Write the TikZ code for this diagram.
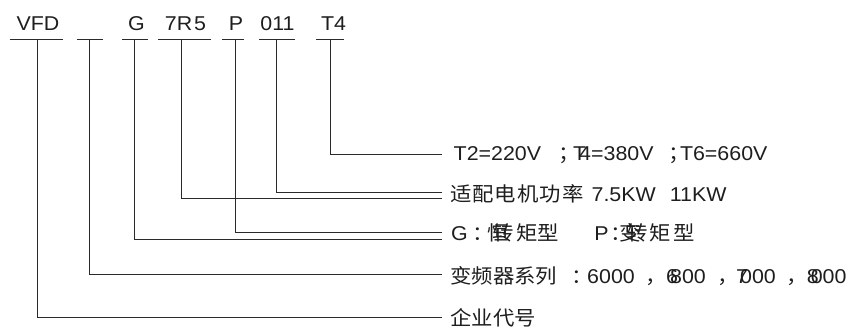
\documentclass[tikz,border=0pt]{standalone}
\usepackage{fontspec}
\setmainfont{Liberation Sans}[FakeStretch=1.07]
\newfontfamily\cjk{Noto Sans CJK SC}[FakeStretch=1.07]
\definecolor{ink}{HTML}{1E1E1E}
\definecolor{wire}{HTML}{2A2A2A}
\begin{document}
\begin{tikzpicture}[x=1pt,y=-1pt,
  code/.style={anchor=base,inner sep=0pt,text=ink,font=\fontsize{20}{24}\selectfont},
  desc/.style={anchor=base west,inner sep=0pt,text=ink,font=\fontsize{20}{24}\selectfont},
  bar/.style={draw=wire,line width=1pt},
  wirestyle/.style={draw=wire,line width=1pt}]
\useasboundingbox (0,0) rectangle (853,328);
% code letters
\node[code] (cVFD) at (38,31) {VFD};
\node[code] (cG)   at (136.5,31) {G};
\node[code] (cR)   at (185.5,31) {7R\kern2pt 5};
\node[code] (cP)   at (236,31) {P};
\node[code] (cO)   at (277.5,31) {011};
\node[code] (cT)   at (333.5,31) {T4};
% bars under the codes
\coordinate (b1l) at (9.5,39.5);  \coordinate (b1r) at (63,39.5);
\coordinate (b2l) at (77,39.5);   \coordinate (b2r) at (103,39.5);
\coordinate (b3l) at (122,39.5);  \coordinate (b3r) at (148,39.5);
\coordinate (b4l) at (158,39.5);  \coordinate (b4r) at (211,39.5);
\coordinate (b5l) at (222,39.5);  \coordinate (b5r) at (244,39.5);
\coordinate (b6l) at (259,39.5);  \coordinate (b6r) at (295,39.5);
\coordinate (b7l) at (316,39.5);  \coordinate (b7r) at (344,39.5);
\foreach \i in {1,...,7} {\draw[bar] (b\i l) -- (b\i r);}
% stem tops
\coordinate (sVFD) at (37.7,39.5);
\coordinate (sBL)  at (89,39.5);
\coordinate (sG)   at (134.7,39.5);
\coordinate (sR)   at (181.7,39.5);
\coordinate (sP)   at (235.3,39.5);
\coordinate (sO)   at (276.7,39.5);
\coordinate (sT)   at (330,39.5);
% line ends
\coordinate (eT)   at (441.5,154.3);
\coordinate (eO)   at (441.5,192.3);
\coordinate (eR)   at (441.5,198.8);
\coordinate (eP)   at (441.5,233);
\coordinate (eG)   at (441.5,239.3);
\coordinate (eBL)  at (441.5,274.3);
\coordinate (eVFD) at (441.5,317.3);
% description labels
\node[desc] (dT) at (453.5,160.7) {T2=220V\hspace{17.6pt}{\cjk ；}\kern-7pt T\kern-7pt 4=380V\hspace{15pt}{\cjk ；}\kern-10pt T6=660V};
\node[desc] (dR) at (450,202) {{\cjk 适\kern1pt 配\kern1pt 电\kern1pt 机\kern1pt 功\kern1pt 率}\hspace{8pt}7.5KW\hspace{14pt}11KW};
\node[desc] (dG) at (451,241) {G\hspace{5pt}{\cjk ：}\kern-7pt{\cjk \rlap{恒}\hspace{5pt}转\kern2.6pt 矩型}\hspace{35.2pt}P\hspace{2pt}{\cjk ：}\kern-12pt{\cjk \rlap{变}\hspace{7pt}转\kern1.6pt 矩\kern2pt 型}};
\node[desc] (dBL) at (450,283.6) {{\cjk 变频器系列}\hspace{14.6pt}{\cjk ：}\kern-6pt 6000\hspace{11pt}{\cjk ，}\kern-1pt 6\kern-8pt 800\hspace{12pt}{\cjk ，}\kern-3pt 7\kern-8pt 000\hspace{10.7pt}{\cjk ，}\kern-1pt 8\kern-8pt 000};
\node[desc] (dVFD) at (450,325) {\cjk 企业代号};
% connectors
\draw[wirestyle] (sT) |- (eT);
\draw[wirestyle] (sO) |- (eO);
\draw[wirestyle] (sR) |- (eR);
\draw[wirestyle] (sP) |- (eP);
\draw[wirestyle] (sG) |- (eG);
\draw[wirestyle] (sBL) |- (eBL);
\draw[wirestyle] (sVFD) |- (eVFD);
\end{tikzpicture}
\end{document}
